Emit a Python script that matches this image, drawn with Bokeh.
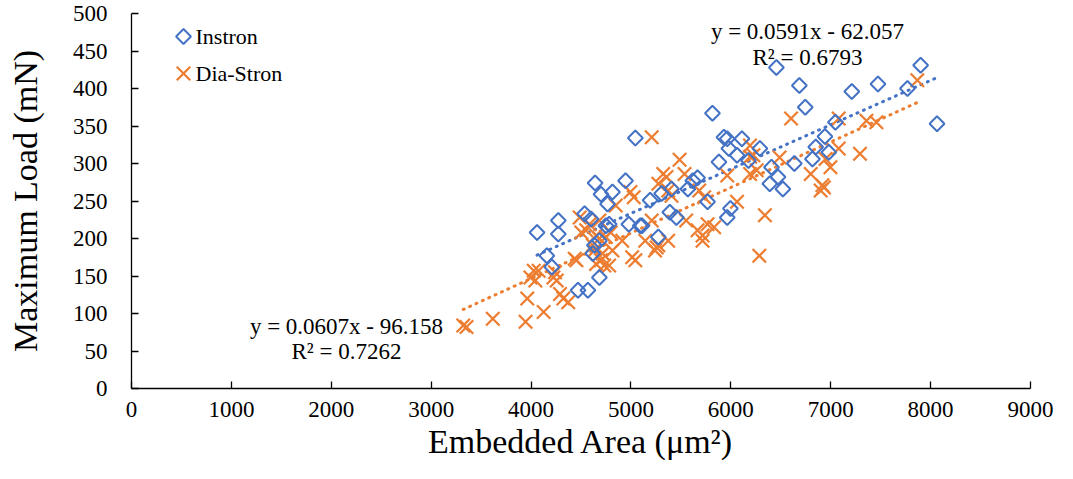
import numpy as np
from bokeh.plotting import figure
from bokeh.models import Range1d, Label, FixedTicker, ColumnDataSource
from bokeh.embed import file_html
from bokeh.resources import INLINE

# ---- data ----
instron_area = [4060, 4158, 4208, 4273, 4273, 4470, 4569, 4536, 4601, 4618, 4634, 4641,
                4684, 4700, 4749, 4766, 4782, 4815, 4946, 4979, 5044, 5093, 5192, 5274,
                5307, 5389, 5455, 5406, 5570, 5619, 5667, 5767, 5816, 5881, 5931, 5964,
                5980, 5996, 5964, 6062, 6111, 6177, 6291, 6407, 6472, 6390, 6521, 6456,
                6636, 6686, 6745, 6817, 6850, 6942, 6981, 7047, 7211, 7473, 7768, 7900,
                8064, 4684, 5110]
instron_load = [208, 177, 162, 224, 206, 131, 131, 233, 226, 180, 191, 274,
                148, 259, 217, 246, 219, 262, 277, 219, 334, 217, 251, 202,
                260, 235, 228, 266, 266, 277, 281, 249, 367, 302, 335, 333,
                320, 240, 228, 311, 333, 304, 320, 295, 282, 273, 266, 428,
                300, 404, 375, 306, 322, 336, 315, 355, 396, 406, 400, 431,
                353, 197, 217]

diastron_area = [3321, 3354, 3617, 3945, 3962, 3994, 4027, 4043, 4076, 4126, 4224, 4257,
                 4240, 4290, 4323, 4372, 4437, 4454, 4487, 4503, 4552, 4585, 4618, 4634,
                 4651, 4651, 4684, 4684, 4700, 4716, 4733, 4749, 4798, 4782, 4815, 4848,
                 4913, 4995, 5012, 5028, 5044, 5143, 5208, 5208, 5241, 5258, 5274, 5274,
                 5323, 5356, 5373, 5373, 5406, 5487, 5536, 5553, 5667, 5684, 5717, 5717,
                 5733, 5767, 5833, 5964, 6062, 6193, 6193, 6226, 6259, 6285, 6341, 6488,
                 6603, 6800, 6899, 6916, 6932, 6948, 6997, 7080, 7080, 7293, 7358, 7457,
                 7867, 6192]
diastron_load = [84, 82, 93, 89, 120, 148, 157, 144, 157, 102, 148, 144,
                 155, 126, 120, 115, 173, 171, 228, 208, 211, 219, 191, 184,
                 204, 166, 224, 200, 171, 180, 164, 202, 208, 164, 184, 244,
                 197, 262, 175, 255, 171, 197, 335, 224, 184, 188, 273, 191,
                 286, 282, 264, 197, 257, 305, 286, 224, 211, 264, 204, 197,
                 255, 219, 215, 284, 249, 309, 286, 311, 291, 177, 231, 308,
                 360, 286, 264, 271, 268, 306, 295, 360, 320, 313, 357, 355,
                 411, 324]

series_names = ["Instron", "Dia-Stron"]
trend_slope = [0.0591, 0.0607]
trend_intercept = [-62.057, -96.158]
trend_r2 = ["0.6793", "0.7262"]
x_ticks = [0, 1000, 2000, 3000, 4000, 5000, 6000, 7000, 8000, 9000]
y_ticks = [0, 50, 100, 150, 200, 250, 300, 350, 400, 450, 500]

BLUE = "#4472C4"
ORANGE = "#ED7D31"
FONT = "Liberation Serif"

W, H = 1057, 463
BL, BR, BT, BB = 131, 27, 13, 75
FW, FH = W - BL - BR, H - BT - BB

p = figure(width=W, height=H, output_backend="svg", toolbar_location=None,
           x_range=Range1d(0, 9000), y_range=Range1d(0, 500),
           min_border_left=BL, min_border_right=BR, min_border_top=BT, min_border_bottom=BB)
p.outline_line_color = None
p.xgrid.visible = False
p.ygrid.visible = False
p.background_fill_color = "white"

for ax in (p.xaxis[0], p.yaxis[0]):
    ax.axis_line_color = "black"
    ax.axis_line_width = 1.3
    ax.major_tick_line_color = "black"
    ax.major_tick_line_width = 1.3
    ax.major_tick_in = 7
    ax.major_tick_out = 0
    ax.minor_tick_line_color = None
    ax.major_label_text_font = FONT
    ax.major_label_text_font_size = "23px"
    ax.major_label_text_color = "black"
    ax.axis_label_text_font = FONT
    ax.axis_label_text_font_size = "34px"
    ax.axis_label_text_font_style = "normal"
    ax.axis_label_text_color = "black"

p.xaxis.ticker = FixedTicker(ticks=x_ticks)
p.yaxis.ticker = FixedTicker(ticks=y_ticks)
p.xaxis.axis_label = "Embedded Area (μm²)"
p.yaxis.axis_label = "Maximum Load (mN)"
p.xaxis.major_label_standoff = 13
p.yaxis.major_label_standoff = 24
p.xaxis.axis_label_standoff = 3
p.yaxis.axis_label_standoff = 26

# trendlines (dotted)
xs_all = [instron_area, diastron_area]
colors = [BLUE, ORANGE]
for i in range(2):
    xmin, xmax = min(xs_all[i]), max(xs_all[i])
    tx = [xmin, xmax]
    ty = [trend_slope[i] * v + trend_intercept[i] for v in tx]
    p.line(tx, ty, line_color=colors[i], line_width=3, line_dash="1 6", line_cap="round")

X_SIZE, X_LW = 19, 2.3
D_SIZE, D_LW = 10.5, 2

src_i = ColumnDataSource(dict(x=instron_area, y=instron_load))
src_d = ColumnDataSource(dict(x=diastron_area, y=diastron_load))
p.scatter("x", "y", source=src_d, marker="x", size=X_SIZE, line_color=ORANGE, line_width=X_LW)
p.scatter("x", "y", source=src_i, marker="square", angle=np.pi / 4, size=D_SIZE,
          fill_color=None, line_color=BLUE, line_width=D_LW)

# legend (keys drawn in frame-pixel space so the diamond keeps its 45° rotation)
p.extra_x_ranges = {"px": Range1d(0, FW)}
p.extra_y_ranges = {"px": Range1d(0, FH)}
key_x = [52, 52]
key_y = [FH - 23, FH - 60]
p.scatter([key_x[0]], [key_y[0]], x_range_name="px", y_range_name="px", marker="square",
          angle=np.pi / 4, size=D_SIZE, fill_color=None, line_color=BLUE, line_width=D_LW)
p.scatter([key_x[1]], [key_y[1]], x_range_name="px", y_range_name="px", marker="x",
          size=X_SIZE, line_color=ORANGE, line_width=X_LW)
for i in range(2):
    p.add_layout(Label(x=key_x[i] + 12, y=key_y[i], x_units="screen", y_units="screen",
                       text=series_names[i], text_baseline="middle", text_align="left",
                       text_font=FONT, text_font_size="22px", text_color="black"))

# trendline equations
eq_pos_x = [6767, 2152]
eq_pos_y = [[476, 441], [83, 49]]
for i in range(2):
    sign = "-" if trend_intercept[i] < 0 else "+"
    eq = f"y = {trend_slope[i]:.4f}x {sign} {abs(trend_intercept[i]):.3f}"
    p.add_layout(Label(x=eq_pos_x[i], y=eq_pos_y[i][0], text=eq, text_align="center",
                       text_baseline="middle", text_font=FONT, text_font_size="23px",
                       text_color="black"))
    p.add_layout(Label(x=eq_pos_x[i], y=eq_pos_y[i][1], text=f"R² = {trend_r2[i]}",
                       text_align="center", text_baseline="middle", text_font=FONT,
                       text_font_size="23px", text_color="black"))

open("out.html", "w").write(file_html(p, INLINE))
